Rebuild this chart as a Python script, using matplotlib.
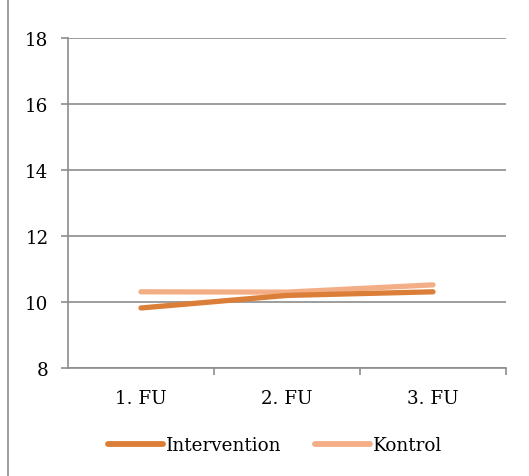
import matplotlib
matplotlib.use('Agg')
import matplotlib.pyplot as plt
from matplotlib.lines import Line2D

plt.rcParams['font.family'] = 'DejaVu Serif'

categories = ['1. FU', '2. FU', '3. FU']
intervention = [9.82, 10.2, 10.31]
kontrol = [10.31, 10.3, 10.52]
yticks = [8, 10, 12, 14, 16, 18]

ORANGE = '#DB7F38'
PEACH = '#F4AE86'
GRID = '#8c8c8c'

fig = plt.figure(figsize=(5.29, 4.77), dpi=100)
ax = fig.add_axes([0.1285, 0.2264, 0.828, 0.6916])

x = range(len(categories))
ax.plot(x, intervention, color=ORANGE, lw=3.8, solid_capstyle='round', label='Intervention', zorder=3)
ax.plot(x, kontrol, color=PEACH, lw=3.8, solid_capstyle='round', label='Kontrol', zorder=2)

ax.set_xlim(-0.5, len(categories) - 0.5)
ax.set_ylim(8, 18)
ax.set_yticks(yticks)
ax.set_xticks(x)
ax.set_xticklabels(categories)
ax.set_xticks([0.5, 1.5, 2.5], minor=True)
ax.yaxis.grid(True, color=GRID, lw=1.2)
ax.set_axisbelow(True)

for s in ['top', 'right']:
    ax.spines[s].set_visible(False)
for s in ['left', 'bottom']:
    ax.spines[s].set_color(GRID)
    ax.spines[s].set_linewidth(1.2)

ax.tick_params(axis='y', length=5, width=1.2, color=GRID, labelsize=13.2, pad=9)
ax.tick_params(axis='x', which='major', length=0, labelsize=13.2, pad=15)
ax.tick_params(axis='x', which='minor', length=5, width=1.2, color=GRID)

fig.legend(loc='center', bbox_to_anchor=(0.52, 0.065), ncol=2, frameon=False,
           fontsize=13.2, handlelength=3.0, handletextpad=0.2, columnspacing=1.8)
for ln in fig.legends[0].get_lines():
    ln.set_linewidth(4.2)

# thin frame line on the left side
fig.add_artist(Line2D([8 / 529, 8 / 529], [0.0, 1.0], color=GRID, lw=1.2))

fig.savefig('out.png', dpi=100)
